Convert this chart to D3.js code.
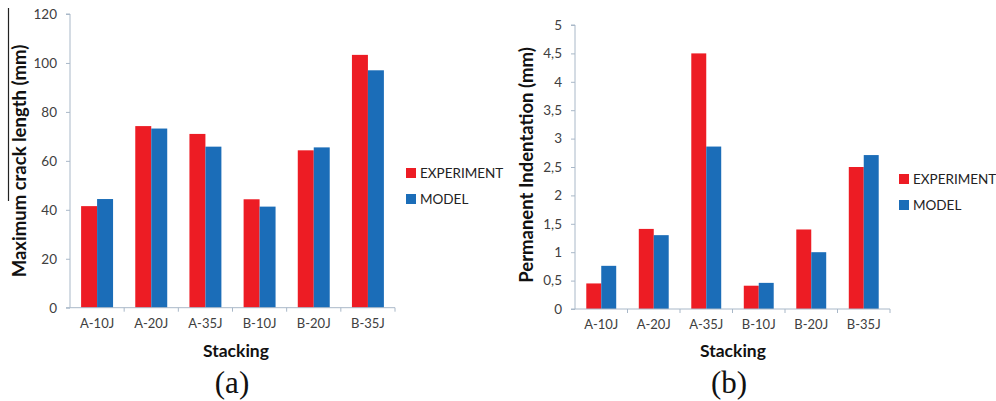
<!DOCTYPE html>
<html><head><meta charset="utf-8">
<script src="https://cdn.jsdelivr.net/npm/d3@7/dist/d3.min.js"></script>
<style>
body{margin:0;background:#fff;}
svg{display:block;}
text{font-family:Lato, "Open Sans", sans-serif;}
</style></head>
<body>
<svg id="c" width="996" height="401"></svg>
<script>
const categories = ["A-10J","A-20J","A-35J","B-10J","B-20J","B-35J"];
const seriesNames = ["EXPERIMENT","MODEL"];
const crackExperiment = [41.5, 74.2, 71.0, 44.3, 64.3, 103.3];
const crackModel = [44.4, 73.2, 65.8, 41.3, 65.5, 97.0];
const indentExperiment = [0.45, 1.41, 4.50, 0.41, 1.40, 2.50];
const indentModel = [0.76, 1.30, 2.86, 0.46, 1.00, 2.71];
const crackTicks = [0,20,40,60,80,100,120];
const indentTicks = [0,0.5,1,1.5,2,2.5,3,3.5,4,4.5,5];
const colors = ["#ed1c24","#1b6db8"];

const svg = d3.select("#c");
const axisColor = "#a9b8c8";
const tickTextColor = "#404040";

// stray left border line in the reference
svg.append("line").attr("x1",8.5).attr("x2",8.5).attr("y1",8).attr("y2",201)
  .attr("stroke","#222").attr("stroke-width",1.2);

function chart(o){
  const g = svg.append("g");
  const x = d3.scaleBand().domain(categories).range([o.x0,o.x1]);
  const bw = x.bandwidth();
  const xi = d3.scaleBand().domain(seriesNames).range([bw*(1-o.frac)/2, bw*(1+o.frac)/2]);
  const y = d3.scaleLinear().domain([0,o.max]).range([o.y0,o.yTop]);
  const data = [o.exp, o.mod];

  seriesNames.forEach((s,si)=>{
    g.selectAll(null).data(categories).enter().append("rect")
      .attr("x",(c)=>x(c)+xi(s))
      .attr("width",xi.bandwidth())
      .attr("y",(c,i)=>y(data[si][i]))
      .attr("height",(c,i)=>o.y0-y(data[si][i]))
      .attr("fill",colors[si]);
  });

  const ya = d3.axisLeft(y).tickValues(o.ticks).tickSize(4).tickPadding(9)
    .tickFormat(o.fmt);
  const yg = g.append("g").attr("transform",`translate(${o.x0},0)`).call(ya);
  yg.select(".domain").attr("stroke",axisColor).attr("d",`M-4,${o.yTop}H0V${o.y0}`);
  yg.selectAll(".tick line").attr("stroke",axisColor);
  yg.selectAll(".tick text").attr("fill",tickTextColor).style("font-size","13.5px");

  const xa = d3.axisBottom(x).tickSize(0).tickPadding(11);
  const xg = g.append("g").attr("transform",`translate(0,${o.y0})`).call(xa);
  xg.select(".domain").attr("stroke",axisColor).attr("d",`M${o.x0-4},0H${o.x1}`);
  xg.selectAll(".tick text").attr("fill",tickTextColor).style("font-size","13px");
  const seps = categories.map(c=>x(c)+bw);
  g.selectAll(null).data(seps).enter().append("line")
    .attr("x1",d=>d).attr("x2",d=>d).attr("y1",o.y0).attr("y2",o.y0+4)
    .attr("stroke",axisColor);

  g.append("text").attr("transform",`translate(${o.ytx},${o.yty}) rotate(-90)`)
    .attr("text-anchor","middle").attr("dominant-baseline","central")
    .style("font-size","18.5px").style("font-weight","bold").attr("fill","#111")
    .text(o.ytitle);
  g.append("text").attr("x",o.xtx).attr("y",357).attr("text-anchor","middle")
    .style("font-size","17.5px").style("font-weight","bold").attr("fill","#111")
    .text("Stacking");
  g.append("text").attr("x",o.xtx-4).attr("y",393).attr("text-anchor","middle")
    .style("font-family","'Liberation Serif', 'DejaVu Serif', serif").style("font-size","31px")
    .attr("fill","#111").text(o.panel);

  seriesNames.forEach((s,si)=>{
    const ly = o.ly + si*26;
    g.append("rect").attr("x",o.lx).attr("y",ly-5).attr("width",10).attr("height",10).attr("fill",colors[si]);
    g.append("text").attr("x",o.lx+14).attr("y",ly).attr("dominant-baseline","central")
      .style("font-size","13.5px").attr("fill","#222").text(s);
  });
}

chart({x0:70,x1:395,y0:307.7,yTop:14,max:120,ticks:crackTicks,fmt:d3.format("d"),
  exp:crackExperiment,mod:crackModel,frac:0.59,ytitle:"Maximum crack length (mm)",
  ytx:18.5,yty:161,xtx:236,panel:"(a)",lx:406,ly:173});
chart({x0:575,x1:890,y0:309,yTop:25,max:5,ticks:indentTicks,fmt:d=>String(d).replace(".",","),
  exp:indentExperiment,mod:indentModel,frac:0.57,ytitle:"Permanent Indentation (mm)",
  ytx:526,yty:165,xtx:733,panel:"(b)",lx:899,ly:179});
</script>
</body></html>
